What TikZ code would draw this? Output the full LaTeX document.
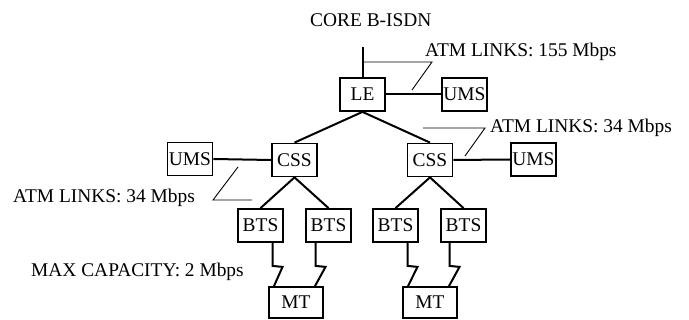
\documentclass[tikz,border=0pt]{standalone}
\usepackage{fontspec}
\setmainfont{Liberation Serif}
\usepackage{tikz}
\tikzset{
  box/.style={draw, line width=1.8pt, minimum width=45pt, minimum height=33pt, inner sep=1pt},
  link/.style={line width=2pt},
  leader/.style={line width=0.9pt},
  tag/.style={anchor=base west, inner sep=0pt}
}

\begin{document}
\begin{tikzpicture}[x=1pt, y=-1pt, font=\fontsize{19.4}{22}\selectfont]
      \useasboundingbox (0,0) rectangle (689,320);
      % switching nodes
      \node[box] (le) at (362.5,94.5) {LE};
      \node[box] (umsA) at (464.5,94.5) {UMS};
      \node[box] (cssL) at (294.5,160) {CSS};
      \node[box] (cssR) at (430,160) {CSS};
      \node[box] (umsL) at (190,159) {UMS};
      \node[box] (umsR) at (533.5,159.5) {UMS};
      \node[box] (btsA) at (260.5,225.5) {BTS};
      \node[box] (btsB) at (328.5,225.5) {BTS};
      \node[box] (btsC) at (395.5,225.5) {BTS};
      \node[box] (btsD) at (463.5,225.5) {BTS};
      \node[box, minimum width=54pt, minimum height=31pt] (mtL) at (296,302.5) {MT};
      \node[box, minimum width=54pt, minimum height=31pt] (mtR) at (430,302.5) {MT};
      \coordinate (core) at (362.5,47);
      % wired links
      \draw[link] (le.north) -- (core);
      \draw[link] (le.east) -- (umsA.west);
      \draw[link] (le.south) -- (cssL.north);
      \draw[link] (le.south) -- (cssR.north);
      \draw[link] (umsL.east) -- (cssL.west);
      \draw[link] (cssR.east) -- (umsR.west);
      \draw[link] (cssL.south) -- (btsA.north);
      \draw[link] (cssL.south) -- (btsB.north);
      \draw[link] (cssR.south) -- (btsC.north);
      \draw[link] (cssR.south) -- (btsD.north);
      % radio links
      \draw[link] ([xshift=12pt]btsA.south) -- ++(0,23) -- ++(10,1) -- ([xshift=-22pt]mtL.north);
      \draw[link] ([xshift=-13pt]btsB.south) -- ++(0,23) -- ++(10,1) -- ([xshift=19pt]mtL.north);
      \draw[link] ([xshift=12pt]btsC.south) -- ++(0,23) -- ++(10,1) -- ([xshift=-22pt]mtR.north);
      \draw[link] ([xshift=-14pt]btsD.south) -- ++(0,23) -- ++(10,1) -- ([xshift=19pt]mtR.north);
      % labels
      \node[tag] (coretxt) at (310,27) {CORE B-ISDN};
      \node[tag] (atmA) at (425,57) {ATM LINKS: 155 Mbps};
      \node[tag] (atmR) at (490,133) {ATM LINKS: 34 Mbps};
      \node[tag] (atmL) at (13,203) {ATM LINKS: 34 Mbps};
      \node[tag] (maxcap) at (31,277) {MAX CAPACITY: 2 Mbps};
      \draw[leader] (363,62) -- (432,62) -- (412,90);
      \draw[leader] (423,128) -- (485,128) -- (465,156);
      \draw[leader] (238,167) -- (213,200) -- (252,200);
\end{tikzpicture}
\end{document}
